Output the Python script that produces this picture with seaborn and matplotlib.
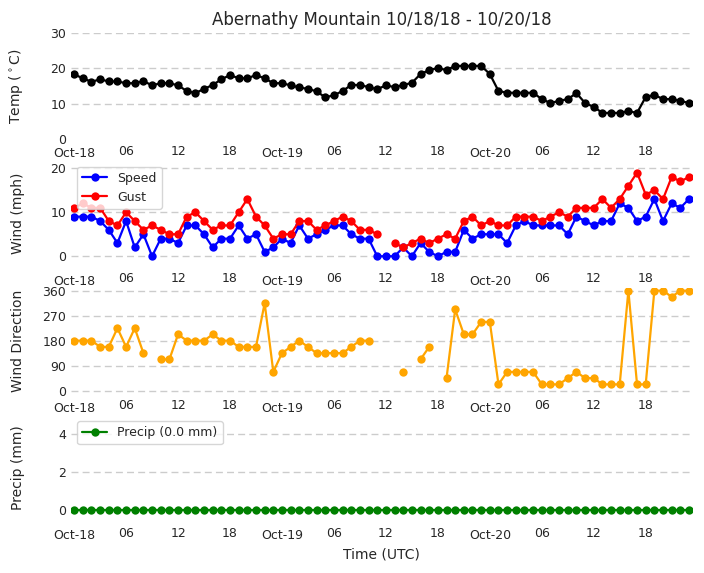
import matplotlib
matplotlib.use("Agg")
import matplotlib.pyplot as plt
import matplotlib.dates as mdates
from matplotlib.lines import Line2D
import numpy as np
import pandas as pd
import seaborn as sns

nan = np.nan

# hourly observations, 2018-10-18 00z .. 2018-10-20 23z
times = pd.date_range("2018-10-18 00:00", periods=72, freq="h")

temp_c = [18.3, 17.2, 16.2, 16.9, 16.3, 16.3, 15.8, 15.8, 16.4, 15.2, 15.8, 15.8,
          15.2, 13.6, 13.0, 14.2, 15.3, 16.9, 18.1, 17.2, 17.2, 18.1, 17.2, 15.8,
          15.8, 15.2, 14.6, 14.2, 13.5, 11.8, 12.4, 13.6, 15.3, 15.3, 14.7, 14.1,
          15.2, 14.7, 15.3, 15.9, 18.4, 19.5, 20.1, 19.5, 20.7, 20.7, 20.7, 20.7,
          18.4, 13.6, 13.1, 13.1, 13.1, 13.1, 11.3, 10.2, 10.8, 11.3, 13.0, 10.2,
          9.1, 7.4, 7.4, 7.4, 7.9, 7.4, 11.9, 12.5, 11.3, 11.3, 10.8, 10.2]

wind_speed = [9, 9, 9, 8, 6, 3, 8, 2, 5, 0, 4, 4,
              3, 7, 7, 5, 2, 4, 4, 7, 4, 5, 1, 2,
              4, 3, 7, 4, 5, 6, 7, 7, 5, 4, 4, 0,
              0, 0, 2, 0, 3, 1, 0, 1, 1, 6, 4, 5,
              5, 5, 3, 7, 8, 7, 7, 7, 7, 5, 9, 8,
              7, 8, 8, 12, 11, 8, 9, 13, 8, 12, 11, 13]

wind_gust = [11, 12, 11, 11, 8, 7, 10, 8, 6, 7, 6, 5,
             5, 9, 10, 8, 6, 7, 7, 10, 13, 9, 7, 4,
             5, 5, 8, 8, 6, 7, 8, 9, 8, 6, 6, 5,
             nan, 3, 2, 3, 4, 3, 4, 5, 4, 8, 9, 7,
             8, 7, 7, 9, 9, 9, 8, 9, 10, 9, 11, 11,
             11, 13, 11, 13, 16, 19, 14, 15, 13, 18, 17, 18]

wind_dir = [180, 180, 180, 157.5, 157.5, 225, 157.5, 225, 135, nan, 112.5, 112.5,
            202.5, 180, 180, 180, 202.5, 180, 180, 157.5, 157.5, 157.5, 315, 67.5,
            135, 157.5, 180, 157.5, 135, 135, 135, 135, 157.5, 180, 180, nan,
            nan, nan, 67.5, nan, 112.5, 157.5, nan, 45, 292.5, 202.5, 202.5, 247.5,
            247.5, 22.5, 67.5, 67.5, 67.5, 67.5, 22.5, 22.5, 22.5, 45, 67.5, 45,
            45, 22.5, 22.5, 22.5, 360, 22.5, 22.5, 360, 360, 337.5, 360, 360]

precip_mm = [0.0] * 72

grid_kw = dict(color="#cccccc", linewidth=1.0, linestyle=(0, (5, 3)))


def draw_series(ax, values, color):
    # split at missing values so the line breaks where data is absent
    df = pd.DataFrame({"time": times, "value": values})
    df["seg"] = df["value"].isna().cumsum()
    df = df.dropna()
    sns.lineplot(data=df, x="time", y="value", units="seg", estimator=None,
                 color=color, marker="o", markersize=6, markeredgewidth=0,
                 linewidth=1.6, legend=False, ax=ax)


def legend_handle(color, label):
    return Line2D([], [], color=color, marker="o", markersize=6,
                  markeredgewidth=0, linewidth=1.6, label=label)


sns.set_style("white")
plt.rcParams["font.family"] = ["DejaVu Sans"]

fig, axes = plt.subplots(4, 1, figsize=(7.04, 5.73), dpi=100)
fig.subplots_adjust(left=0.101, right=0.983, top=0.9424, bottom=0.0908, hspace=0.2)

ax_t, ax_w, ax_d, ax_p = axes

draw_series(ax_t, temp_c, "black")
ax_t.set_ylim(0, 30)
ax_t.set_yticks([0, 10, 20, 30])
ax_t.set_ylabel(r"Temp ($^\circ$C)")
ax_t.set_title("Abernathy Mountain 10/18/18 - 10/20/18", fontsize=12)

draw_series(ax_w, wind_speed, "blue")
draw_series(ax_w, wind_gust, "red")
ax_w.set_ylim(-2.3, 21.8)
ax_w.set_yticks([0, 10, 20])
ax_w.set_ylabel("Wind (mph)")
ax_w.legend(handles=[legend_handle("blue", "Speed"), legend_handle("red", "Gust")],
            loc="upper left", fontsize=9)

draw_series(ax_d, wind_dir, "orange")
ax_d.set_ylim(-11, 371)
ax_d.set_yticks([0, 90, 180, 270, 360])
ax_d.set_ylabel("Wind Direction")

draw_series(ax_p, precip_mm, "green")
ax_p.set_ylim(-0.58, 5.0)
ax_p.set_yticks([0, 2, 4])
ax_p.set_ylabel("Precip (mm)")
ax_p.legend(handles=[legend_handle("green", "Precip (0.0 mm)")],
            loc="upper left", fontsize=9)
ax_p.set_xlabel("Time (UTC)", fontsize=10)

pad = pd.Timedelta(minutes=21)
for ax in axes:
    ax.set_xlim(times[0] - pad, times[-1] + pad)
    ax.xaxis.set_major_locator(mdates.DayLocator())
    ax.xaxis.set_major_formatter(mdates.DateFormatter("%b-%d"))
    ax.xaxis.set_minor_locator(mdates.HourLocator(byhour=[6, 12, 18]))
    ax.xaxis.set_minor_formatter(mdates.DateFormatter("%H"))
    ax.tick_params(axis="both", which="both", labelsize=9, length=0)
    ax.tick_params(axis="x", which="major", pad=6)
    ax.tick_params(axis="x", which="minor", pad=4)
    ax.yaxis.grid(True, **grid_kw)
    ax.xaxis.grid(False)
    ax.set_axisbelow(True)
    ax.yaxis.label.set_size(10)
    ax.yaxis.set_label_coords(-0.074, 0.5)
    if ax is not ax_p:
        ax.set_xlabel("")
    sns.despine(ax=ax, left=True, bottom=True)

# the reference has no dashed line along the bottom of the temperature panel
ax_t.get_ygridlines()[0].set_visible(False)

fig.savefig("out.png", dpi=100)
